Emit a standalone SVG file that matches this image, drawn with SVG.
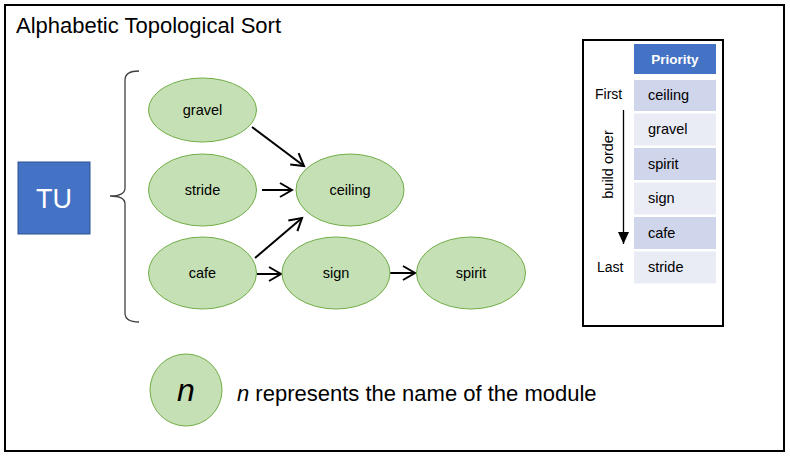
<svg xmlns="http://www.w3.org/2000/svg" width="790" height="456" viewBox="0 0 790 456">
<defs>
<style>
.t{font-family:"Liberation Sans",Arial,sans-serif;fill:#000}
.node ellipse,.legend circle{fill:#C5E0B4;stroke:#70AD47;stroke-width:1}
.lbl{font-size:14.5px;text-anchor:middle}
.edge{stroke:#000;stroke-width:2;fill:none;marker-end:url(#open)}
.dark{fill:#CFD5EA}
.light{fill:#E9EBF5}
.rowt{font-size:14.5px}
</style>
<marker id="open" markerUnits="userSpaceOnUse" markerWidth="20" markerHeight="20" viewBox="-14 -10 16 20" refX="0" refY="0" orient="auto">
<path d="M-12,-7 L0,0 L-12,7" fill="none" stroke="#000" stroke-width="2"/>
</marker>
<marker id="solid" markerUnits="userSpaceOnUse" markerWidth="14" markerHeight="14" viewBox="-13 -7 14 14" refX="0" refY="0" orient="auto">
<path d="M-12,-5.5 L0,0 L-12,5.5 Z" fill="#000"/>
</marker>
</defs>
<rect x="0" y="0" width="790" height="456" fill="#fff"/>
<rect x="5" y="5" width="779" height="446" fill="#fff" stroke="#000" stroke-width="2"/>
<text class="t" x="16" y="33" font-size="22">Alphabetic Topological Sort</text>

<g id="TU">
<rect x="18" y="162" width="72" height="72" fill="#4472C4" stroke="#2F528F" stroke-width="1"/>
<text class="t" x="54" y="208" font-size="27" text-anchor="middle" style="fill:#fff">TU</text>
</g>

<g id="brace">
<path d="M139,71 Q125,71 125,80 L125,188 Q125,196 110,196 Q125,196 125,204 L125,313 Q125,322 139,322" fill="none" stroke="#404040" stroke-width="1.3"/>
</g>

<g id="connectors">
<line class="edge" x1="252" y1="127" x2="304" y2="166"/>
<line class="edge" x1="262" y1="190" x2="292" y2="190"/>
<line class="edge" x1="255" y1="258" x2="302" y2="218"/>
<line class="edge" x1="257" y1="274" x2="281" y2="274"/>
<line class="edge" x1="390" y1="273" x2="415" y2="273"/>
</g>

<g id="gravel" class="node"><ellipse cx="202.5" cy="110" rx="54" ry="32"/><text class="t lbl" x="202.5" y="115">gravel</text></g>
<g id="stride" class="node"><ellipse cx="202.5" cy="190" rx="54" ry="36"/><text class="t lbl" x="202.5" y="195">stride</text></g>
<g id="ceiling" class="node"><ellipse cx="350" cy="190" rx="54" ry="36"/><text class="t lbl" x="350" y="195">ceiling</text></g>
<g id="cafe" class="node"><ellipse cx="202.5" cy="273" rx="54" ry="36"/><text class="t lbl" x="202.5" y="278">cafe</text></g>
<g id="sign" class="node"><ellipse cx="336" cy="273" rx="54" ry="36"/><text class="t lbl" x="336" y="278">sign</text></g>
<g id="spirit" class="node"><ellipse cx="471" cy="273" rx="54.5" ry="36"/><text class="t lbl" x="471" y="278">spirit</text></g>

<g id="priority">
<rect x="583" y="40" width="140" height="286" fill="#fff" stroke="#000" stroke-width="2"/>
<rect x="634" y="44" width="82" height="30" fill="#4472C4"/>
<text class="t" x="675" y="64" font-size="13.5" font-weight="bold" text-anchor="middle" style="fill:#fff">Priority</text>
<rect class="dark" x="634" y="80" width="82" height="31"/>
<rect class="light" x="634" y="113.5" width="82" height="32"/>
<rect class="dark" x="634" y="148" width="82" height="32"/>
<rect class="light" x="634" y="182.5" width="82" height="32"/>
<rect class="dark" x="634" y="217" width="82" height="32"/>
<rect class="light" x="634" y="251.5" width="82" height="32"/>
<text class="t rowt" x="648" y="100">ceiling</text>
<text class="t rowt" x="648" y="134">gravel</text>
<text class="t rowt" x="648" y="169">spirit</text>
<text class="t rowt" x="648" y="203">sign</text>
<text class="t rowt" x="648" y="238">cafe</text>
<text class="t rowt" x="648" y="272">stride</text>
<text class="t" x="595" y="99" font-size="14">First</text>
<text class="t" x="597" y="272" font-size="14">Last</text>
<line x1="623.5" y1="110" x2="623.5" y2="244" stroke="#000" stroke-width="1.3" marker-end="url(#solid)"/>
<text class="t" x="0" y="0" font-size="14.5" text-anchor="middle" transform="translate(613,164.5) rotate(-90)">build order</text>
</g>

<g id="legend" class="legend">
<circle cx="186" cy="390" r="36"/>
<text class="t" x="186" y="401" font-size="32" font-style="italic" text-anchor="middle">n</text>
<text class="t" x="237" y="401" font-size="22"><tspan font-style="italic">n</tspan> represents the name of the module</text>
</g>
</svg>
